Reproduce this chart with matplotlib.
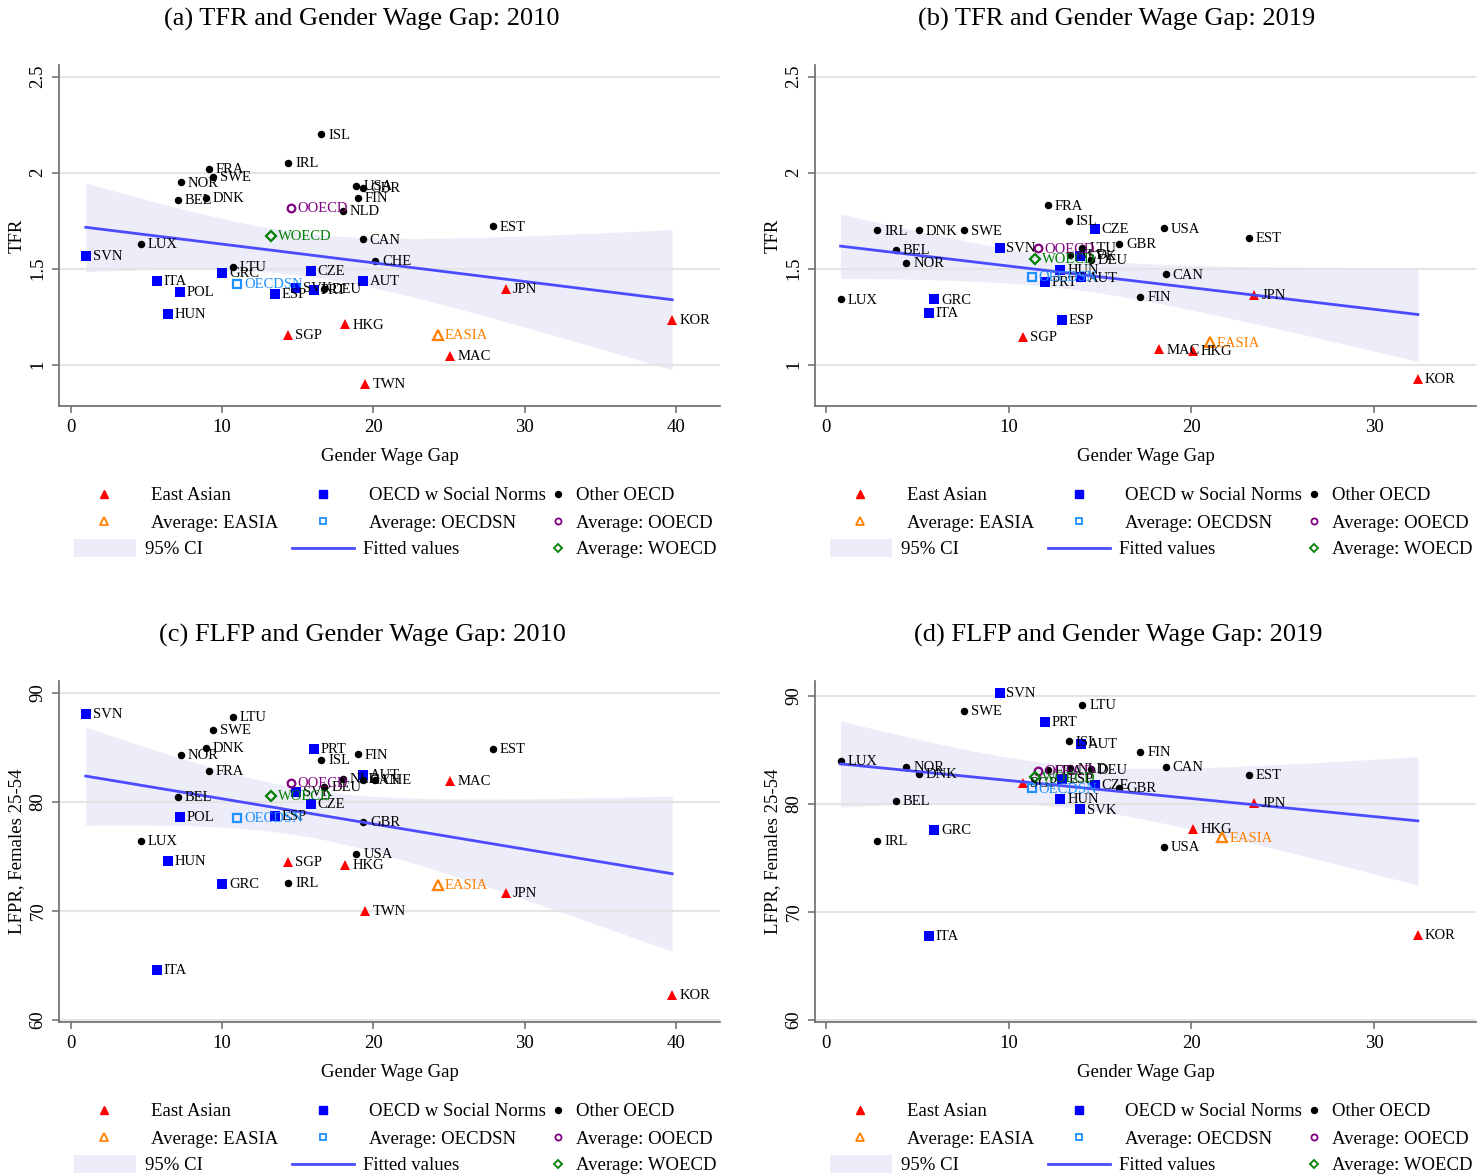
import numpy as np
import matplotlib
matplotlib.use("Agg")
import matplotlib.pyplot as plt
from matplotlib.lines import Line2D
from matplotlib.patches import Rectangle

plt.rcParams['font.family'] = ['Liberation Serif', 'DejaVu Serif']

# ---- 2010 cross-section ----
codes10 = ["SVN", "ITA", "POL", "GRC", "HUN", "CZE", "ESP", "SVK", "PRT", "AUT",
           "ISL", "IRL", "FRA", "SWE", "NOR", "BEL", "DNK", "USA", "GBR", "FIN",
           "NLD", "CAN", "CHE", "LUX", "LTU", "DEU", "EST",
           "JPN", "KOR", "HKG", "SGP", "MAC", "TWN"]
group10 = ["SN"] * 10 + ["OT"] * 17 + ["EA"] * 6
gap10 = [1.0, 5.7, 7.2, 10.0, 6.4, 15.85, 13.5, 14.92, 16.06, 19.3,
         16.55, 14.39, 9.15, 9.41, 7.28, 7.08, 8.93, 18.88, 19.31, 18.96,
         18.0, 19.3, 20.13, 4.62, 10.7, 16.77, 27.9,
         28.78, 39.74, 18.15, 14.36, 25.08, 19.47]
tfr10 = [1.566, 1.4375, 1.379, 1.48, 1.265, 1.49, 1.37, 1.40, 1.389, 1.4375,
         2.20, 2.05, 2.02, 1.98, 1.95, 1.86, 1.87, 1.93, 1.92, 1.87,
         1.80, 1.653, 1.542, 1.63, 1.51, 1.393, 1.72,
         1.393, 1.233, 1.21, 1.155, 1.045, 0.898]
flfp10 = [88.07, 64.6, 78.6, 72.48, 74.6, 79.8, 78.74, 80.9, 84.9, 82.48,
          83.85, 72.6, 82.87, 86.6, 84.3, 80.43, 84.98, 75.23, 78.2, 84.37,
          82.1, 82.0, 82.0, 76.42, 87.77, 81.35, 84.86,
          71.65, 62.3, 74.2, 74.47, 81.9, 70.0]

# ---- 2019 cross-section ----
codes19 = ["SVN", "ITA", "GRC", "HUN", "CZE", "ESP", "SVK", "PRT", "AUT",
           "FRA", "ISL", "USA", "IRL", "DNK", "SWE", "EST", "LTU", "GBR", "BEL",
           "NLD", "DEU", "NOR", "CAN", "FIN", "LUX",
           "JPN", "KOR", "HKG", "SGP", "MAC"]
group19 = ["SN"] * 9 + ["OT"] * 16 + ["EA"] * 5
gap19 = [9.5, 5.62, 5.92, 12.82, 14.7, 12.9, 13.9, 11.98, 13.98,
         12.15, 13.3, 18.48, 2.8, 5.1, 7.58, 23.15, 14.03, 16.05, 3.82,
         13.38, 14.5, 4.4, 18.6, 17.2, 0.8,
         23.45, 32.4, 20.1, 10.8, 18.25]
tfr19 = [1.61, 1.27, 1.34, 1.493, 1.707, 1.233, 1.566, 1.432, 1.455,
         1.83, 1.75, 1.71, 1.70, 1.70, 1.70, 1.66, 1.61, 1.63, 1.60,
         1.57, 1.545, 1.53, 1.47, 1.353, 1.34,
         1.363, 0.925, 1.07, 1.144, 1.08]
flfp19 = [90.3, 67.8, 77.6, 80.44, 81.76, 82.3, 79.5, 87.6, 85.6,
          83.1, 85.8, 76.0, 76.57, 82.75, 88.6, 82.7, 89.17, 81.45, 80.28,
          83.3, 83.2, 83.4, 83.45, 84.8, 84.0,
          80.1, 67.9, 77.66, 81.97, np.nan]

W, H = 1480, 1175

group_style = {
    "EA": dict(marker="^", color="#ff0000", ms=7.5, label="East Asian"),
    "SN": dict(marker="s", color="#0000ff", ms=6.5, label="OECD w Social Norms"),
    "OT": dict(marker="o", color="black", ms=5.4, label="Other OECD"),
}
avg_style = {
    "EASIA": dict(marker="^", color="#ff7f00", ms=6.5),
    "OECDSN": dict(marker="s", color="#1e90ff", ms=5.5),
    "OOECD": dict(marker="o", color="#800080", ms=5.5),
    "WOECD": dict(marker="D", color="#008000", ms=5.0),
}
fit_color = "#4b4bff"
ci_color = "#ededfa"


def fit_ci(x, y):
    n = len(x)
    b, a = np.polyfit(x, y, 1)
    resid = y - (a + b * x)
    s = np.sqrt(np.sum(resid ** 2) / (n - 2))
    sxx = np.sum((x - x.mean()) ** 2)
    z = 1.959964
    df = n - 2
    t = z + (z ** 3 + z) / (4 * df) + (5 * z ** 5 + 16 * z ** 3 + 3 * z) / (96 * df ** 2)
    xs = np.linspace(x.min(), x.max(), 200)
    yh = a + b * xs
    se = s * np.sqrt(1 / n + (xs - x.mean()) ** 2 / sxx)
    return xs, yh, yh - t * se, yh + t * se


def label_point(ax, x, y, text, color="black"):
    ax.annotate(text, (x, y), xytext=(5, -0.5), textcoords="offset points",
                va="center", ha="left", fontsize=10.5, color=color,
                annotation_clip=False, zorder=6)


def draw_legend(fig, left, bottom):
    rows = [bottom + 90, bottom + 117, bottom + 143]

    def fx(x):
        return x / W

    def fy(y):
        return 1 - y / H

    def mark(x, y, st, hollow):
        fig.add_artist(Line2D([fx(x)], [fy(y)], transform=fig.transFigure,
                              marker=st["marker"], color=st["color"],
                              ms=st["ms"] * 0.8,
                              mfc="none" if hollow else st["color"],
                              mew=1.3 if hollow else 1.0, ls="none"))

    def txt(x, y, s):
        fig.text(fx(x), fy(y), s, fontsize=13.5, va="center", ha="left")

    c1m, c1t = left + 45, left + 92
    c2m, c2t = left + 264, left + 310
    c3m, c3t = left + 499, left + 517

    mark(c1m, rows[0] - 2, group_style["EA"], False)
    txt(c1t, rows[0], "East Asian")
    mark(c2m, rows[0] - 2, group_style["SN"], False)
    txt(c2t, rows[0], "OECD w Social Norms")
    mark(c3m, rows[0] - 2, group_style["OT"], False)
    txt(c3t, rows[0], "Other OECD")

    mark(c1m, rows[1] - 2, avg_style["EASIA"], True)
    txt(c1t, rows[1], "Average: EASIA")
    mark(c2m, rows[1] - 2, avg_style["OECDSN"], True)
    txt(c2t, rows[1], "Average: OECDSN")
    mark(c3m, rows[1] - 2, avg_style["OOECD"], True)
    txt(c3t, rows[1], "Average: OOECD")

    fig.add_artist(Rectangle((fx(left + 15), fy(rows[2] + 8)), 62 / W, 18 / H,
                             transform=fig.transFigure, color=ci_color, lw=0))
    txt(c1t - 6, rows[2], "95% CI")
    fig.add_artist(Line2D([fx(left + 233), fx(left + 295)], [fy(rows[2] - 1)] * 2,
                          transform=fig.transFigure, color=fit_color, lw=2))
    txt(c2t - 6, rows[2], "Fitted values")
    mark(c3m, rows[2] - 1, avg_style["WOECD"], True)
    txt(c3t, rows[2], "Average: WOECD")


def draw_panel(fig, box, codes, groups, gap, val, title, title_x, title_y,
               xlim, xticks, ylim, yticks, ylabel):
    l, t, r, b = box
    ax = fig.add_axes([l / W, 1 - b / H, (r - l) / W, (b - t) / H])
    gap = np.asarray(gap, float)
    val = np.asarray(val, float)
    groups = np.asarray(groups)
    codes = np.asarray(codes)
    ok = ~np.isnan(val)
    gap, val, groups, codes = gap[ok], val[ok], groups[ok], codes[ok]

    xs, yh, lo, hi = fit_ci(gap, val)
    ax.fill_between(xs, lo, hi, color=ci_color, lw=0, zorder=1)
    for yt in yticks:
        ax.axhline(yt, color="#e4e4e4", lw=1.5, zorder=1.5)

    for g in ["EA", "SN", "OT"]:
        st = group_style[g]
        m = groups == g
        ax.plot(gap[m], val[m], ls="none", marker=st["marker"], color=st["color"],
                ms=st["ms"], mew=0, zorder=4)
        for c, x, y in zip(codes[m], gap[m], val[m]):
            label_point(ax, x, y, c)

    # group averages; WOECD pools both OECD groups
    avgs = {
        "EASIA": groups == "EA",
        "OECDSN": groups == "SN",
        "OOECD": groups == "OT",
        "WOECD": (groups == "SN") | (groups == "OT"),
    }
    for name, m in avgs.items():
        st = avg_style[name]
        ax.plot([gap[m].mean()], [val[m].mean()], ls="none", marker=st["marker"],
                color=st["color"], mfc="none", ms=st["ms"], mew=1.6, zorder=5)
        label_point(ax, gap[m].mean(), val[m].mean(), name, color=st["color"])

    ax.plot(xs, yh, color=fit_color, lw=2, zorder=4.5)

    ax.set_xlim(*xlim)
    ax.set_ylim(*ylim)
    ax.set_xticks(xticks)
    ax.set_yticks(yticks)
    ax.set_yticklabels([("%g" % v) for v in yticks], rotation=90, va="center")
    for side in ["top", "right"]:
        ax.spines[side].set_visible(False)
    for side in ["left", "bottom"]:
        ax.spines[side].set_color("#6a6a6a")
        ax.spines[side].set_linewidth(1.2)
    ax.tick_params(axis="both", direction="out", length=5, width=1.1,
                   color="#6a6a6a", labelsize=13.5, pad=4)
    ax.set_xlabel("Gender Wage Gap", fontsize=13.5, labelpad=9)
    ax.set_ylabel(ylabel, fontsize=13.5, labelpad=3)
    fig.text(title_x / W, 1 - title_y / H, title, fontsize=19,
             ha="center", va="center")
    draw_legend(fig, l, b)
    return ax


fig = plt.figure(figsize=(W / 100, H / 100), dpi=100)

draw_panel(fig, (59, 65, 720, 406), codes10, group10, gap10, tfr10,
           "(a) TFR and Gender Wage Gap: 2010", 362, 19,
           (-0.77, 42.9), [0, 10, 20, 30, 40], (0.785, 2.561), [1, 1.5, 2, 2.5], "TFR")
draw_panel(fig, (815, 65, 1476, 406), codes19, group19, gap19, tfr19,
           "(b) TFR and Gender Wage Gap: 2019", 1117, 19,
           (-0.6, 35.58), [0, 10, 20, 30], (0.785, 2.561), [1, 1.5, 2, 2.5], "TFR")
draw_panel(fig, (59, 681, 720, 1022), codes10, group10, gap10, flfp10,
           "(c) FLFP and Gender Wage Gap: 2010", 362, 635,
           (-0.77, 42.9), [0, 10, 20, 30, 40], (59.8, 91.1), [60, 70, 80, 90],
           "LFPR, Females 25-54")
draw_panel(fig, (815, 681, 1476, 1022), codes19, group19, gap19, flfp19,
           "(d) FLFP and Gender Wage Gap: 2019", 1118, 635,
           (-0.6, 35.58), [0, 10, 20, 30], (59.8, 91.39), [60, 70, 80, 90],
           "LFPR, Females 25-54")

fig.savefig("out.png", dpi=100)
